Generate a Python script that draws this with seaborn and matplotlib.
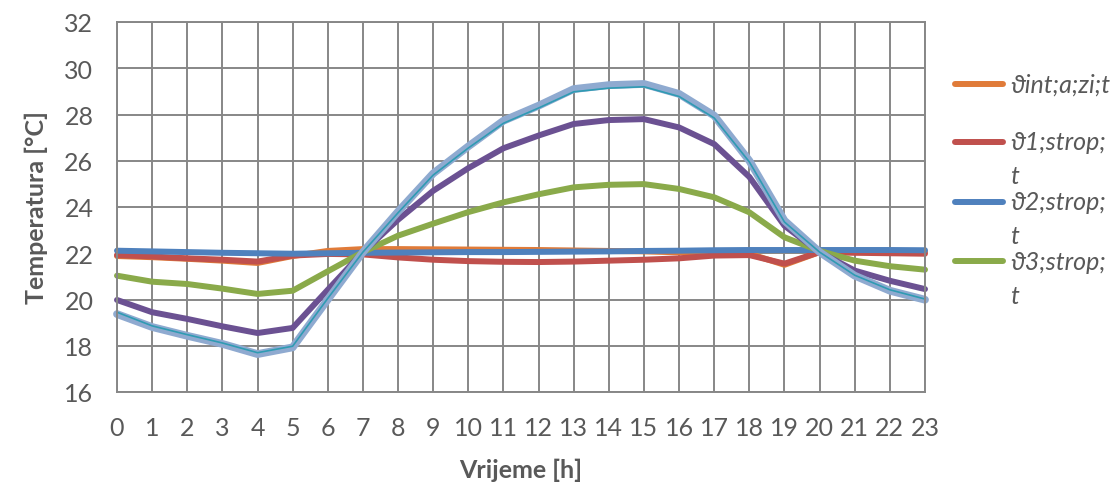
# Dnevni hod temperatura: unutarnja i stropne temperature po satu
import matplotlib
matplotlib.use("Agg")
import matplotlib.pyplot as plt
import seaborn as sns
import pandas as pd
from matplotlib.lines import Line2D

# Data
hours = list(range(24))
t_int = [21.88, 21.83, 21.76, 21.68, 21.58, 21.88, 22.10, 22.18, 22.18, 22.17, 22.16, 22.15,
         22.14, 22.12, 22.10, 22.08, 22.04, 22.00, 21.98, 21.50, 22.05, 22.05, 22.06, 22.06]
t_1 = [21.92, 21.86, 21.78, 21.72, 21.64, 21.90, 21.97, 21.95, 21.82, 21.72, 21.66, 21.63,
       21.62, 21.64, 21.68, 21.72, 21.78, 21.90, 21.92, 21.55, 22.05, 22.02, 22.00, 21.98]
t_2 = [22.11, 22.08, 22.05, 22.02, 22.00, 21.98, 22.00, 22.02, 22.03, 22.04, 22.05, 22.05,
       22.06, 22.07, 22.08, 22.10, 22.11, 22.13, 22.14, 22.14, 22.14, 22.14, 22.14, 22.13]
t_3 = [21.03, 20.77, 20.67, 20.47, 20.24, 20.38, 21.22, 22.05, 22.76, 23.28, 23.78, 24.20,
       24.55, 24.85, 24.96, 24.99, 24.78, 24.42, 23.77, 22.69, 22.10, 21.68, 21.44, 21.29]
t_4 = [19.98, 19.45, 19.16, 18.84, 18.55, 18.77, 20.42, 22.05, 23.45, 24.70, 25.68, 26.54,
       27.09, 27.59, 27.76, 27.80, 27.44, 26.72, 25.30, 23.19, 22.05, 21.25, 20.81, 20.45]
t_5 = [19.37, 18.81, 18.43, 18.08, 17.64, 17.93, 20.00, 22.05, 23.80, 25.45, 26.62, 27.73,
       28.38, 29.10, 29.27, 29.32, 28.89, 27.95, 26.00, 23.41, 22.05, 21.03, 20.38, 19.99]
t_6 = [19.45, 18.86, 18.48, 18.12, 17.70, 17.98, 20.05, 22.05, 23.75, 25.38, 26.55, 27.62,
       28.28, 28.98, 29.14, 29.20, 28.78, 27.85, 25.95, 23.35, 22.05, 21.05, 20.42, 20.02]

legend_labels = ["ϑint;a;zi;t", "ϑ1;strop;\nt", "ϑ2;strop;\nt", "ϑ3;strop;\nt"]

series = [
    (t_int, "#E07B39", 4.3),
    (t_1, "#C0504D", 4.3),
    (t_2, "#4F81BD", 4.3),
    (t_3, "#8AAA4A", 4.3),
    (t_4, "#6B5192", 4.3),
    (t_5, "#8FAAD0", 5.6),
    (t_6, "#2F9BB3", 1.2),
]

sns.set_style("white")
plt.rcParams['font.family'] = ['Lato', 'DejaVu Sans']
text_color = "#595959"
grid_color = "#878787"

fig = plt.figure(figsize=(11.2, 4.89), dpi=100)
ax = fig.add_axes([117 / 1120, 1 - 393 / 489, 808 / 1120, 370 / 489])

for vals, col, lw in series:
    df = pd.DataFrame({"h": hours, "t": vals})
    sns.lineplot(data=df, x="h", y="t", color=col, linewidth=lw, ax=ax,
                 solid_capstyle="round", solid_joinstyle="round", clip_on=False)

ax.set_xlim(0, 23)
ax.set_ylim(16, 32)
ax.set_xticks(hours)
ax.set_yticks(range(16, 33, 2))
ax.grid(True, color=grid_color, linewidth=1.4)
ax.set_axisbelow(True)
for sp in ax.spines.values():
    sp.set_color(grid_color)
    sp.set_linewidth(1.4)
ax.tick_params(axis="both", length=0, labelsize=18, labelcolor=text_color)
ax.tick_params(axis="y", pad=17)
ax.tick_params(axis="x", pad=17)
ax.set_xlabel("Vrijeme [h]", fontsize=18, fontweight="bold", color=text_color, labelpad=14)
ax.set_ylabel("Temperatura [°C]", fontsize=18, fontweight="bold", color=text_color, labelpad=12)

# Legend (only four entries shown, as in the original)
leg_y = [85, 143, 203, 262]
for (vals, col, lw), lab, y in zip(series[:4], legend_labels, leg_y):
    yf = 1 - y / 489
    fig.add_artist(Line2D([955 / 1120, 1003 / 1120], [yf, yf], color=col, lw=4.3,
                          solid_capstyle="round", transform=fig.transFigure))
    lines = lab.split("\n")
    for k, part in enumerate(lines):
        fig.text(1010 / 1120, 1 - (y + 34 * k) / 489, part, fontsize=18, style="italic",
                 color=text_color, va="center", ha="left")

fig.savefig("out.png", dpi=100)
